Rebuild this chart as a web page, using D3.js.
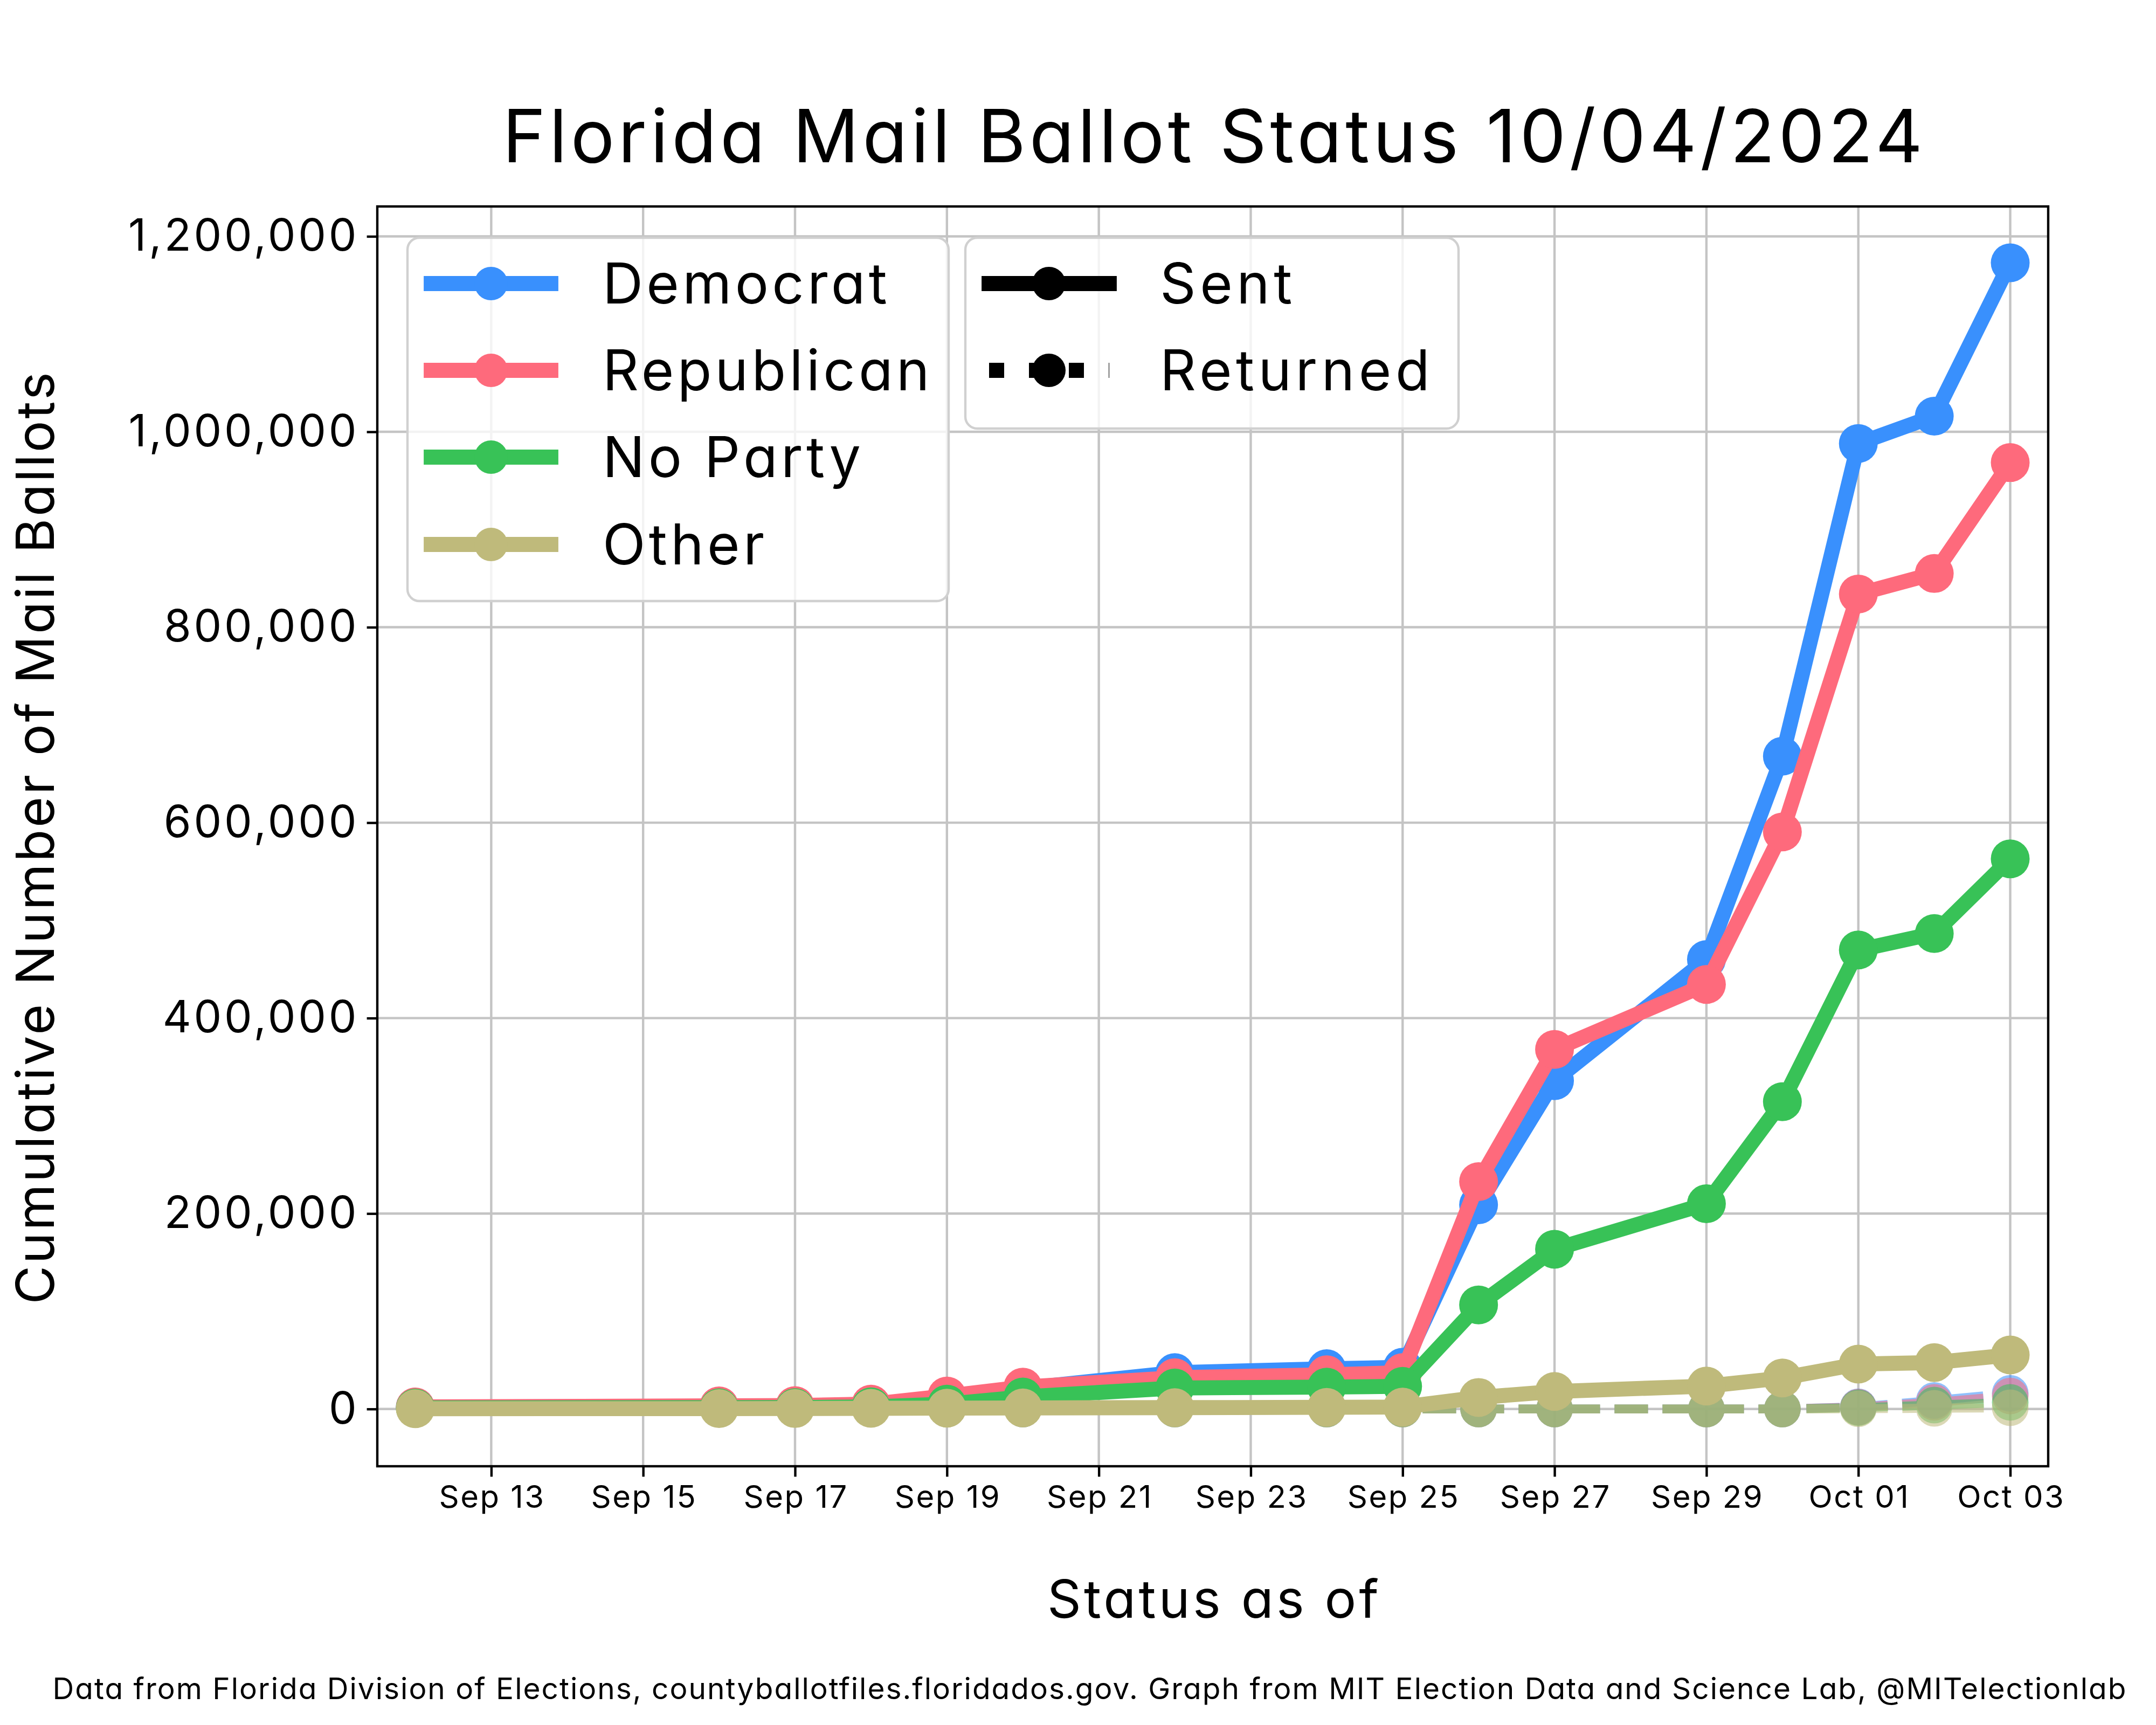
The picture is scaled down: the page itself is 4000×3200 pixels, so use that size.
<!DOCTYPE html>
<html>
<head>
<meta charset="utf-8">
<script src="https://cdn.jsdelivr.net/npm/d3@7"></script>
<style>
  html, body { margin: 0; padding: 0; background: #ffffff; }
  svg text { font-family: "Inter", "DejaVu Sans", sans-serif; font-feature-settings: "cv11" 1; }
</style>
</head>
<body>
<svg id="chart" width="4000" height="3200"></svg>
<script>
// ---------------- data ----------------
const dates = ["2024-09-12","2024-09-16","2024-09-17","2024-09-18","2024-09-19","2024-09-20",
               "2024-09-22","2024-09-24","2024-09-25","2024-09-26","2024-09-27","2024-09-29",
               "2024-09-30","2024-10-01","2024-10-02","2024-10-03"];
const demSent = [1800, 2800, 3000, 3800, 11000, 21000, 37200, 41200, 42700, 209000, 336000, 460000, 668000, 988000, 1016000, 1173000];
const repSent = [2100, 3200, 3500, 5000, 13300, 22400, 32000, 35000, 37200, 232700, 368000, 434400, 590500, 834000, 855000, 968500];
const npaSent = [1000, 1300, 1400, 2200, 5000, 12300, 21500, 22400, 23200, 106500, 163500, 210000, 314500, 469700, 486600, 563000];
const othSent = [300, 400, 500, 700, 900, 1100, 1400, 1700, 2000, 11800, 17900, 23400, 31700, 46000, 47500, 55300];
const demRet  = [0,0,0,0,0,0,0,0,0,0,0,0,0, 2200, 8700, 16000];
const repRet  = [0,0,0,0,0,0,0,0,0,0,0,0,0, 1900, 6800, 13300];
const npaRet  = [0,0,0,0,0,0,0,0,0,0,0,0,0, 1300, 4000, 6800];
const othRet  = [0,0,0,0,0,0,0,0,0,0,0,0,0, 300, 700, 1300];
const partyNames = ["Democrat","Republican","No Party","Other"];
const partyColors = ["#3990fd","#fe6a7c","#38c257","#bfba7b"];
const statusNames = ["Sent","Returned"];
const xTickLabels = ["Sep 13","Sep 15","Sep 17","Sep 19","Sep 21","Sep 23","Sep 25","Sep 27","Sep 29","Oct 01","Oct 03"];
const yTicks = [0, 200000, 400000, 600000, 800000, 1000000, 1200000];
const titleText = "Florida Mail Ballot Status 10/04/2024";
const xLabelText = "Status as of";
const yLabelText = "Cumulative Number of Mail Ballots";
const footerText = "Data from Florida Division of Elections, countyballotfiles.floridados.gov. Graph from MIT Election Data and Science Lab, @MITelectionlab";

// ---------------- layout ----------------
const W = 4000, H = 3200;
const L = 700, R = 3800, T = 383, B = 2720;
const parseDate = d3.timeParse("%Y-%m-%d");
const dateVals = dates.map(parseDate);

const x = d3.scaleTime()
  .domain([new Date(2024, 8, 11, 12), new Date(2024, 9, 3, 12)])
  .range([L, R]);
const y = d3.scaleLinear().domain([-58600, 1230600]).range([B, T]);

const svg = d3.select("#chart");
svg.append("rect").attr("width", W).attr("height", H).attr("fill", "#ffffff");

const xTickDates = xTickLabels.map(s => d3.timeParse("%b %d %Y")(s + " 2024"));

// grid
const grid = svg.append("g");
grid.selectAll("line.vx").data(xTickDates).enter().append("line")
  .attr("x1", d => x(d)).attr("x2", d => x(d)).attr("y1", T).attr("y2", B)
  .attr("stroke", "#c4c4c4").attr("stroke-width", 4.4);
grid.selectAll("line.hy").data(yTicks).enter().append("line")
  .attr("x1", L).attr("x2", R).attr("y1", d => y(d)).attr("y2", d => y(d))
  .attr("stroke", "#c4c4c4").attr("stroke-width", 4.4);

// clip
svg.append("clipPath").attr("id", "plotclip").append("rect")
  .attr("x", L).attr("y", T).attr("width", R - L).attr("height", B - T);

const plot = svg.append("g").attr("clip-path", "url(#plotclip)");
const line = d3.line().x(d => x(d[0])).y(d => y(d[1]));

const retSeries = [demRet, repRet, npaRet, othRet];
const sentSeries = [demSent, repSent, npaSent, othSent];

// returned (dashed, translucent)
retSeries.forEach((vals, i) => {
  const pts = dateVals.map((d, j) => [d, vals[j]]);
  const g = plot.append("g").attr("opacity", 0.55);
  g.append("path").attr("d", line(pts)).attr("fill", "none")
    .attr("stroke", partyColors[i]).attr("stroke-width", 16.7)
    .attr("stroke-dasharray", "62 27").attr("stroke-linejoin", "round");
  g.selectAll("circle").data(pts).enter().append("circle")
    .attr("cx", d => x(d[0])).attr("cy", d => y(d[1])).attr("r", 34)
    .attr("fill", partyColors[i]);
});

// sent (solid)
sentSeries.forEach((vals, i) => {
  const pts = dateVals.map((d, j) => [d, vals[j]]);
  const g = plot.append("g");
  g.append("path").attr("d", line(pts)).attr("fill", "none")
    .attr("stroke", partyColors[i]).attr("stroke-width", 27.8)
    .attr("stroke-linejoin", "round").attr("stroke-linecap", "square");
  g.selectAll("circle").data(pts).enter().append("circle")
    .attr("cx", d => x(d[0])).attr("cy", d => y(d[1])).attr("r", 36)
    .attr("fill", partyColors[i]);
});

// frame
svg.append("rect").attr("x", L).attr("y", T).attr("width", R - L).attr("height", B - T)
  .attr("fill", "none").attr("stroke", "#000").attr("stroke-width", 4.4);

// axes
const xAxis = d3.axisBottom(x).tickValues(xTickDates)
  .tickFormat((d, i) => xTickLabels[i]).tickSize(19.4).tickPadding(16);
const gx = svg.append("g").attr("transform", `translate(0,${B})`).call(xAxis);
gx.select(".domain").remove();
gx.selectAll(".tick line").attr("stroke", "#000").attr("stroke-width", 4.4);
gx.selectAll(".tick text").attr("font-size", 58).attr("fill", "#000")
  .attr("font-family", "Inter, sans-serif").attr("letter-spacing", 2.5).attr("dx", 1.2);

const yAxis = d3.axisLeft(y).tickValues(yTicks).tickFormat(d3.format(",")).tickSize(19.4).tickPadding(19);
const gy = svg.append("g").attr("transform", `translate(${L},0)`).call(yAxis);
gy.select(".domain").remove();
gy.selectAll(".tick line").attr("stroke", "#000").attr("stroke-width", 4.4);
gy.selectAll(".tick text").attr("font-size", 82).attr("fill", "#000")
  .attr("font-family", "Inter, sans-serif").attr("letter-spacing", 4.8).attr("dx", 4.8);

// titles
svg.append("text").attr("x", 2253).attr("y", 301).attr("text-anchor", "middle")
  .attr("font-size", 136).attr("letter-spacing", 6.6).attr("fill", "#000").text(titleText);
svg.append("text").attr("x", 2253).attr("y", 3001).attr("text-anchor", "middle")
  .attr("font-size", 98).attr("letter-spacing", 5.2).attr("fill", "#000").text(xLabelText);
svg.append("text").attr("transform", "translate(100,1553) rotate(-90)").attr("text-anchor", "middle")
  .attr("font-size", 98).attr("letter-spacing", 3.75).attr("fill", "#000").text(yLabelText);
svg.append("text").attr("x", 2022).attr("y", 3152).attr("text-anchor", "middle")
  .attr("font-size", 55).attr("letter-spacing", 2).attr("fill", "#000").text(footerText);

// legends
function legendBox(x0, y0, x1, y1) {
  svg.append("rect").attr("x", x0).attr("y", y0).attr("width", x1 - x0).attr("height", y1 - y0)
    .attr("rx", 22).attr("ry", 22)
    .attr("fill", "#ffffff").attr("fill-opacity", 0.8)
    .attr("stroke", "#d0d0d0").attr("stroke-width", 4.4);
}
legendBox(756, 441, 1760, 1115);
legendBox(1791, 441, 2706, 795);

const rowY = [526, 687, 848, 1010];
const leg1 = svg.append("g");
partyNames.forEach((name, i) => {
  leg1.append("line").attr("x1", 800).attr("x2", 1022).attr("y1", rowY[i]).attr("y2", rowY[i])
    .attr("stroke", partyColors[i]).attr("stroke-width", 27.8).attr("stroke-linecap", "square");
  leg1.append("circle").attr("cx", 911).attr("cy", rowY[i]).attr("r", 31).attr("fill", partyColors[i]);
  leg1.append("text").attr("x", 1118).attr("y", rowY[i]).attr("dy", "0.36em")
    .attr("font-size", 104).attr("letter-spacing", 6.3).attr("fill", "#000").text(name);
});
const leg2 = svg.append("g");
statusNames.forEach((name, i) => {
  const ln = leg2.append("line").attr("x1", 1835).attr("x2", 2058).attr("y1", rowY[i]).attr("y2", rowY[i])
    .attr("stroke", "#000").attr("stroke-width", 27.8);
  if (i === 0) ln.attr("stroke-linecap", "square");
  else ln.attr("stroke-dasharray", "28 46").attr("stroke-linecap", "butt");
  leg2.append("circle").attr("cx", 1946).attr("cy", rowY[i]).attr("r", 31).attr("fill", "#000");
  leg2.append("text").attr("x", 2152).attr("y", rowY[i]).attr("dy", "0.36em")
    .attr("font-size", 104).attr("letter-spacing", 7.5).attr("fill", "#000").text(name);
});
</script>
</body>
</html>
